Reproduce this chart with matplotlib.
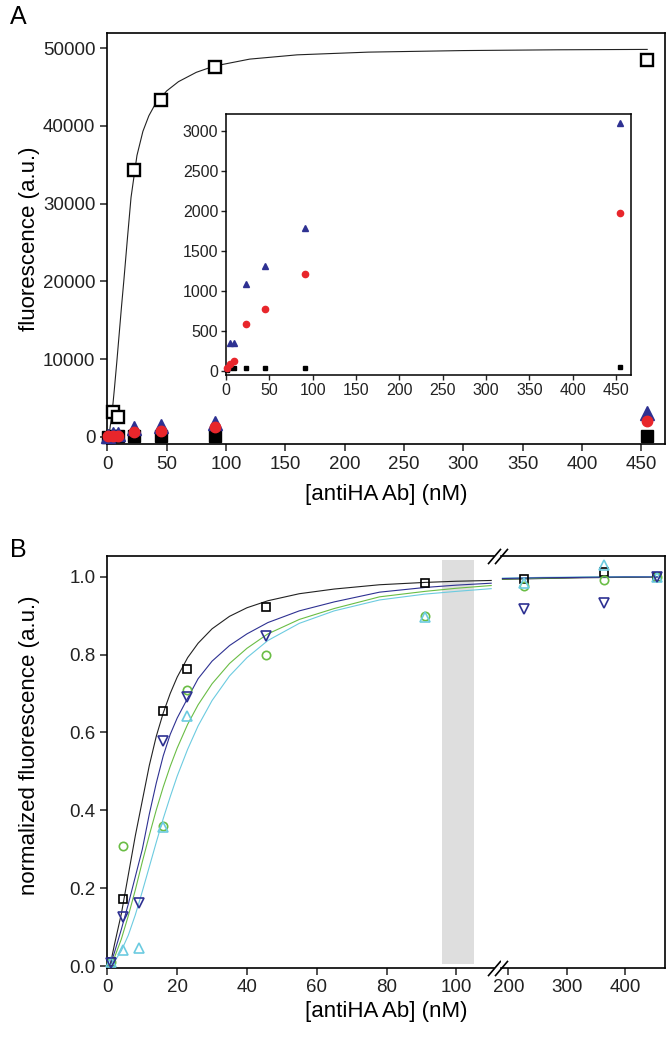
import numpy as np
import matplotlib.pyplot as plt

plt.rcParams['font.family'] = ['Liberation Sans', 'DejaVu Sans']

# ---------------- Panel A: raw fluorescence ----------------
conc_a = np.array([0.9, 4.5, 9.1, 22.7, 45.5, 91, 455])
open_sq_a = np.array([np.nan, 3220, 2570, 34300, 43400, 47600, 48500])
tri_a = np.array([54, 346, 346, 1091, 1316, 1784, 3096])
circ_a = np.array([40, 87, 129, 591, 779, 1216, 1979])
sq_a = np.array([15, 34, 34, 37, 37, 34, 54])

# fitted curve
fit_a_x = [0.9, 2, 4, 6, 8, 10, 12, 14, 17, 20, 25, 30, 35, 40, 50, 60, 75, 90,
           120, 160, 220, 300, 380, 455]
fit_a_y = [200, 800, 3000, 6200, 9600, 13200, 16800, 20200, 25600, 30800, 36200,
           39300, 41300, 42700, 44500, 45700, 46900, 47700, 48600, 49150, 49500,
           49700, 49800, 49850]

# ---------------- Panel B: normalized fluorescence ----------------
conc_b = np.array([0.9, 4.5, 9.1, 15.9, 22.7, 45.5, 91, 227, 364, 455])
sq_b = np.array([0.010, 0.172, np.nan, 0.654, 0.763, 0.922, 0.984, 0.993, 1.012, 1.000])
dtri_b = np.array([0.008, 0.126, 0.162, 0.579, 0.692, 0.847, np.nan, 0.917, 0.932, 1.000])
circ_b = np.array([0.010, 0.310, np.nan, 0.360, 0.710, 0.800, 0.898, 0.976, 0.991, 1.000])
utri_b = np.array([0.012, 0.042, 0.046, 0.357, 0.642, np.nan, 0.895, 0.984, 1.030, 1.000])

fit_b_x = [0.9, 2, 4, 6, 8, 10, 12, 14, 16, 18, 20, 23, 26, 30, 35, 40, 46, 55, 65,
           78, 91, 100, 110]
fit_b_sq = [0.008, 0.055, 0.135, 0.235, 0.335, 0.425, 0.515, 0.59, 0.65, 0.70, 0.742,
            0.792, 0.829, 0.866, 0.898, 0.920, 0.938, 0.956, 0.968, 0.979, 0.985,
            0.988, 0.990]
fit_b_dtri = [0.006, 0.035, 0.095, 0.16, 0.23, 0.30, 0.39, 0.47, 0.54, 0.595, 0.637,
              0.688, 0.738, 0.783, 0.823, 0.853, 0.882, 0.912, 0.935, 0.960, 0.972,
              0.978, 0.983]
fit_b_circ = [0.005, 0.022, 0.07, 0.13, 0.196, 0.268, 0.336, 0.401, 0.46, 0.513, 0.56,
              0.621, 0.671, 0.725, 0.777, 0.816, 0.853, 0.89, 0.918, 0.948, 0.962,
              0.970, 0.977]
fit_b_utri = [0.004, 0.012, 0.04, 0.08, 0.132, 0.192, 0.255, 0.318, 0.379, 0.435,
              0.488, 0.557, 0.617, 0.682, 0.745, 0.792, 0.836, 0.880, 0.912, 0.940,
              0.955, 0.962, 0.969]

fit_b_x2 = [190, 260, 330, 400, 455]
fit_b_sq2 = [0.993, 0.995, 0.997, 0.998, 0.999]
fit_b_dtri2 = [0.995, 0.997, 0.998, 0.999, 0.999]
fit_b_circ2 = [0.994, 0.996, 0.998, 0.999, 1.000]
fit_b_utri2 = [0.996, 0.998, 0.999, 1.000, 1.000]

NAVY = '#2e3192'
RED = '#e8262b'
GREEN = '#6abd45'
CYAN = '#6ccbe0'

W, H = 668, 1041


def px_axes(x0, y0, x1, y1):
    return [x0 / W, 1 - y1 / H, (x1 - x0) / W, (y1 - y0) / H]


fig = plt.figure(figsize=(W / 100, H / 100), dpi=100)

tick_kw = dict(direction='out', length=5, width=1.1, labelsize=13.5, colors='#222222')
LABEL_FS = 16

# ---- A main ----
ax = fig.add_axes(px_axes(107.3, 32.7, 665, 444))
ax.plot(fit_a_x, fit_a_y, color='#222222', lw=0.8, zorder=2)
ax.plot(conc_a, sq_a, 's', color='black', ms=8, zorder=3, clip_on=False)
ax.plot(conc_a, tri_a, '^', color=NAVY, ms=10.5, zorder=4, clip_on=False)
ax.plot(conc_a, circ_a, 'o', color=RED, ms=7.5, zorder=5, clip_on=False)
ax.plot(conc_a, open_sq_a, 's', mfc='white', mec='black', mew=1.7, ms=8, zorder=6,
        clip_on=False)
ax.set_xlim(0, 470)
ax.set_ylim(-940, 52000)
ax.set_xticks(np.arange(0, 451, 50))
ax.set_yticks(np.arange(0, 50001, 10000))
ax.tick_params(**tick_kw)
for s in ax.spines.values():
    s.set_linewidth(1.2)
ax.set_xlabel('[antiHA Ab] (nM)', fontsize=LABEL_FS)
ax.set_ylabel('fluorescence (a.u.)', fontsize=LABEL_FS)
ax.xaxis.set_label_coords(0.5, -(484 - 444) / (444 - 32.7))
ax.yaxis.set_label_coords(-(107.3 - 40) / (665 - 107.3), 0.5)
fig.text(10 / W, 1 - 17 / H, 'A', fontsize=18, va='center', ha='left')

# ---- A inset ----
ins = fig.add_axes(px_axes(226, 114.3, 630.7, 375))
ins.plot(conc_a, sq_a, 's', color='black', ms=3.5, zorder=3, clip_on=False)
ins.plot(conc_a, tri_a, '^', color=NAVY, ms=5, zorder=4, clip_on=False)
ins.plot(conc_a, circ_a, 'o', color=RED, ms=4.5, zorder=5, clip_on=False)
ins.set_xlim(0, 467)
ins.set_ylim(-50, 3209)
ins.set_xticks(np.arange(0, 451, 50))
ins.set_yticks(np.arange(0, 3001, 500))
ins.tick_params(direction='out', length=3.5, width=1, labelsize=11.5, colors='#222222',
                pad=2)
for s in ins.spines.values():
    s.set_linewidth(1.1)

# ---- B, broken x axis ----
b1 = fig.add_axes(px_axes(107.4, 556.3, 494, 967.5))
b2 = fig.add_axes(px_axes(501, 556.3, 665, 967.5))

series = [
    (sq_b, fit_b_sq, fit_b_sq2, 's', 'black', '#222222', 5.5),
    (circ_b, fit_b_circ, fit_b_circ2, 'o', GREEN, GREEN, 6),
    (utri_b, fit_b_utri, fit_b_utri2, '^', CYAN, CYAN, 7.5),
    (dtri_b, fit_b_dtri, fit_b_dtri2, 'v', NAVY, NAVY, 7.5),
]
left = conc_b < 150
for vals, fit1, fit2, mk, mc, lc, ms in series:
    b1.plot(fit_b_x, fit1, color=lc, lw=0.8, zorder=2)
    b2.plot(fit_b_x2, fit2, color=lc, lw=0.8, zorder=2)
    b1.plot(conc_b[left], vals[left], mk, mfc='none', mec=mc, mew=1.2, ms=ms,
            zorder=3, clip_on=False)
    b2.plot(conc_b[~left], vals[~left], mk, mfc='none', mec=mc, mew=1.2, ms=ms,
            zorder=3, clip_on=False)

b1.axvspan(96, 105, ymin=0.008, ymax=0.99, color='#dedede', lw=0, zorder=0)

b1.set_xlim(0, 110.8)
b2.set_xlim(187.5, 468.3)
for a in (b1, b2):
    a.set_ylim(-0.003, 1.052)
    a.tick_params(**tick_kw)
    for s in a.spines.values():
        s.set_linewidth(1.2)
b1.set_xticks(np.arange(0, 101, 20))
b2.set_xticks([200, 300, 400])
b1.set_yticks(np.arange(0, 1.01, 0.2))
b1.set_yticklabels(['%.1f' % v for v in np.arange(0, 1.01, 0.2)])
b2.set_yticks([])
b1.spines['right'].set_visible(False)
b2.spines['left'].set_visible(False)
b1.set_ylabel('normalized fluorescence (a.u.)', fontsize=LABEL_FS)
b1.yaxis.set_label_coords(-(107.4 - 40) / (494 - 107.4), 0.54)
fig.text(386 / W, 1 - 1012 / H, '[antiHA Ab] (nM)', fontsize=LABEL_FS, ha='center',
         va='center')
fig.text(10 / W, 1 - 550 / H, 'B', fontsize=18, va='center', ha='left')

# break marks
brk = dict(marker=[(-0.85, -1), (0.85, 1)], markersize=11, linestyle='none',
           color='black', mec='black', mew=1.2, clip_on=False, zorder=10)
b1.plot([1, 1], [0, 1], transform=b1.transAxes, **brk)
b2.plot([0, 0], [0, 1], transform=b2.transAxes, **brk)

fig.savefig('out.png', dpi=100)
